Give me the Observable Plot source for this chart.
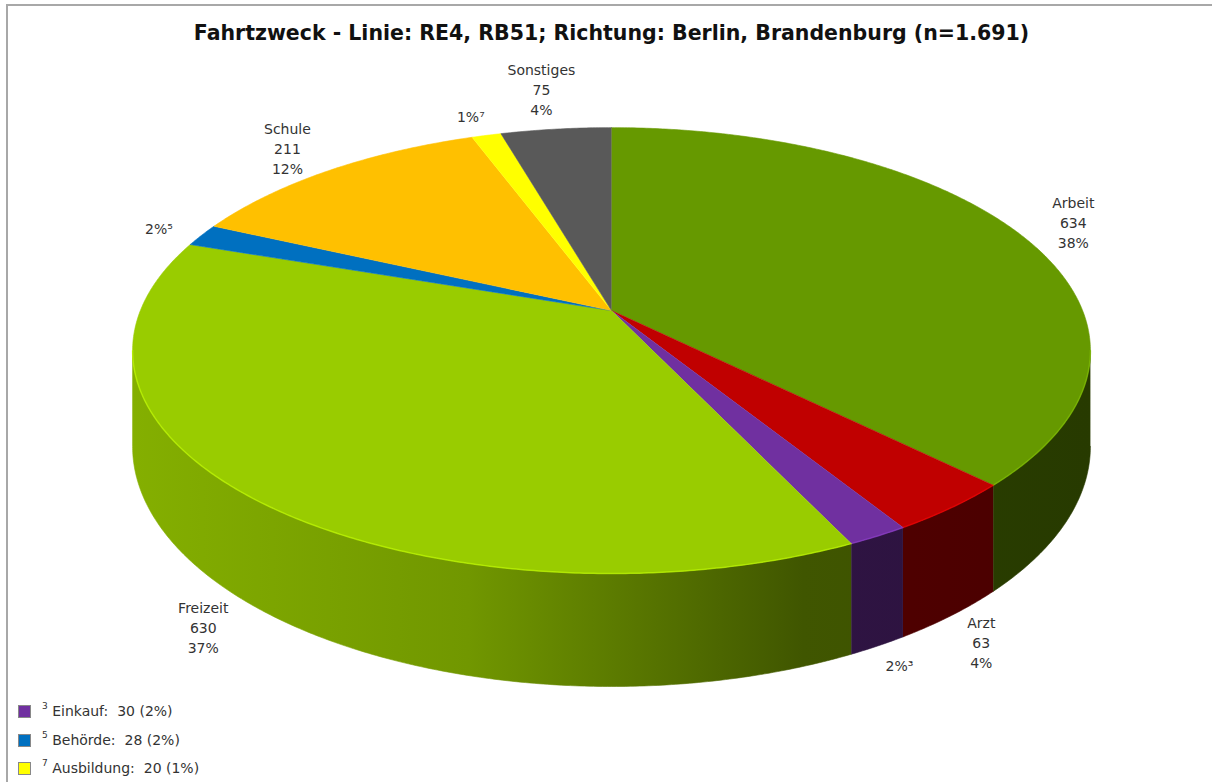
<!DOCTYPE html>
<html>
<head>
<meta charset="utf-8">
<script src="https://cdn.jsdelivr.net/npm/d3@7"></script>
<script src="https://cdn.jsdelivr.net/npm/@observablehq/plot@0.6"></script>
<style>
  html, body { margin: 0; padding: 0; background: #fff; }
  #wrap { position: relative; width: 1212px; height: 782px; overflow: hidden; font-family: "DejaVu Sans", sans-serif; }
  #frame { position: absolute; left: 6px; top: 4px; width: 1400px; height: 1000px; border-left: 2px solid #a8a8a8; border-top: 2px solid #a8a8a8; pointer-events: none; }
  #title { height: 50px; box-sizing: border-box; padding-top: 22px; line-height: 22px; text-align: center; padding-left: 11px; font-weight: bold; font-size: 20.5px; color: #111; white-space: nowrap; }
  #chart { height: 640px; }
  #legend { position: relative; height: 92px; }
  .item { position: absolute; left: 18px; height: 16px; font-size: 14px; color: #333; white-space: nowrap; }
  .sw { position: absolute; left: 0; top: 1px; width: 11px; height: 11px; border: 1px solid #888; }
  .lt { position: absolute; left: 24px; top: -2px; }
  .lt sup { font-size: 9px; position: relative; top: -1px; }
</style>
</head>
<body>
<div id="wrap">
  <div id="frame"></div>
  <div id="title"></div>
  <div id="chart"></div>
  <div id="legend"></div>
</div>
<script>
// ---- data ----
const title = "Fahrtzweck - Linie: RE4, RB51; Richtung: Berlin, Brandenburg (n=1.691)";
const categories = ["Arbeit", "Arzt", "Einkauf", "Freizeit", "Behörde", "Schule", "Ausbildung", "Sonstiges"];
const values = [634, 63, 30, 630, 28, 211, 20, 75];
const percents = [38, 4, 2, 37, 2, 12, 1, 4];
const colors = ["#669900", "#C00000", "#7030A0", "#99CC00", "#0070C0", "#FFC000", "#FFFF00", "#595959"];

// ---- layout / perspective constants ----
const W = 1212, H = 640;
const CX = 611, FX = 2629, HY = -944, FY = 6719; // perspective projection to pixels
const D0 = 5.58;      // viewing distance (in pie radii)
const DEPTH = 1.077;  // bottom plane factor (pie thickness)
const sup = ["⁰", "¹", "²", "³", "⁴", "⁵", "⁶", "⁷", "⁸", "⁹"];

document.getElementById("title").textContent = title;

const total = d3.sum(values);
let acc = 0;
const slices = values.map((v, i) => {
  const a0 = acc / total * 2 * Math.PI; acc += v;
  const a1 = acc / total * 2 * Math.PI;
  return {i, name: categories[i], value: v, pct: percents[i], color: colors[i], a0, a1, foot: percents[i] < 3};
});

function proj(a, r, plane) {
  const u = r * Math.sin(a), v = -r * Math.cos(a);
  const d = D0 - v;
  return {X: u / d, Y: (plane ? DEPTH : 1) / d};
}
function arc(a0, a1, r, plane) {
  const n = Math.max(2, Math.ceil(Math.abs(a1 - a0) / 0.008));
  return d3.range(n + 1).map(k => proj(a0 + (a1 - a0) * k / n, r, plane));
}
const px = X => CX + FX * X, py = Y => HY + FY * Y;

const aL = Math.acos(-1 / D0), aR = 2 * Math.PI - aL; // visible wall range
const xLeft = px(proj(aR, 1, 0).X), xRight = px(proj(aL, 1, 0).X);

const shade = (c, f) => { const k = d3.rgb(c); return d3.rgb(k.r * f, k.g * f, k.b * f).formatHex(); };
const wallStops = [[0, 0.86], [0.35, 0.74], [0.7, 0.42], [1, 0.38]];

// top faces
const topData = slices.flatMap(s => [proj(0, 0, 0), ...arc(s.a0, s.a1, 1, 0)].map(p => ({...p, name: s.name})));

// walls
const wallMarks = [], rimMarks = [];
slices.forEach(s => {
  const b0 = Math.max(s.a0, aL), b1 = Math.min(s.a1, aR);
  if (b0 < b1) {
    const pts = [...arc(b0, b1, 1, 0), ...arc(b1, b0, 1, 1)];
    wallMarks.push(Plot.line(pts, {x: "X", y: "Y", fill: `url(#wall${s.i})`, stroke: `url(#wall${s.i})`, strokeWidth: 0.6, curve: "linear"}));
    rimMarks.push(Plot.line(arc(b0, b1, 1, 0), {x: "X", y: "Y", stroke: d3.color(s.color).brighter(0.7).formatHex(), strokeWidth: 1.5, strokeOpacity: 0.6, curve: "linear"}));
  }
});

// shadow under bottom edge
const shadowPts = arc(aL + 0.05, aR - 0.05, 1.003, 1);

// labels
const labelMarks = slices.map(s => {
  const mid = (s.a0 + s.a1) / 2;
  const front = -Math.cos(mid) > 1 / D0;
  const R = front ? 1.04 : 1.08;
  const p = proj(mid, R, front ? 1 : 0);
  const c = proj(0, 0, front ? 1 : 0);
  const dxp = px(p.X) - px(c.X), dyp = py(p.Y) - py(c.Y);
  const len = Math.hypot(dxp, dyp);
  const text = s.foot ? `${s.pct}%${sup[s.i + 1]}` : `${s.name}\n${s.value}\n${s.pct}%`;
  const lines = text.split("\n");
  const w = d3.max(lines, l => l.length) * 8.2, h = lines.length * 20;
  return Plot.text([{...p, text}], {
    x: "X", y: "Y", text: "text",
    dx: dxp / len * w / 2, dy: dyp / len * h / 2,
    fontSize: 14, lineHeight: 20 / 14, fill: "#333", textAnchor: "middle"
  });
});

const defsMark = () => {
  const defs = d3.create("svg:defs");
  const f = defs.append("filter").attr("id", "blur").attr("filterUnits", "userSpaceOnUse")
    .attr("x", 0).attr("y", 0).attr("width", W).attr("height", H);
  f.append("feGaussianBlur").attr("stdDeviation", 3);
  slices.forEach(s => {
    const g = defs.append("linearGradient").attr("id", `wall${s.i}`).attr("gradientUnits", "userSpaceOnUse")
      .attr("x1", xLeft).attr("x2", xRight).attr("y1", 0).attr("y2", 0);
    wallStops.forEach(([o, k]) => g.append("stop").attr("offset", o).attr("stop-color", shade(s.color, k)));
  });
  return defs.node();
};

const chart = Plot.plot({
  width: W, height: H,
  margin: 0,
  style: {fontFamily: "DejaVu Sans, sans-serif", background: "transparent", overflow: "visible"},
  x: {type: "linear", domain: [(0 - CX) / FX, (W - CX) / FX], range: [0, W], axis: null},
  y: {type: "linear", domain: [(0 - HY) / FY, (H - HY) / FY], range: [0, H], axis: null},
  color: {domain: categories, range: colors},
  marks: [
    defsMark,
    Plot.line(shadowPts, {x: "X", y: "Y", stroke: "#000", strokeOpacity: 0.55, strokeWidth: 5, dx: 2, dy: 3, curve: "linear", ariaLabel: "shadow"}),
    ...wallMarks,
    Plot.line(topData, {x: "X", y: "Y", z: "name", fill: "name", stroke: "name", strokeWidth: 0.6, curve: "linear"}),
    ...rimMarks,
    ...labelMarks
  ]
});
const sh = chart.querySelector('g[aria-label="shadow"]');
if (sh) sh.setAttribute("filter", "url(#blur)");
document.getElementById("chart").appendChild(chart);

// legend for footnoted slices
const legend = d3.select("#legend");
slices.filter(s => s.foot).forEach((s, k) => {
  const item = legend.append("div").attr("class", "item").style("top", `${14 + k * 28.5}px`);
  item.append("div").attr("class", "sw").style("background", s.color);
  item.append("div").attr("class", "lt").html(`<sup>${s.i + 1}</sup> ${s.name}:&nbsp; ${s.value} (${s.pct}%)`);
});
</script>
</body>
</html>
